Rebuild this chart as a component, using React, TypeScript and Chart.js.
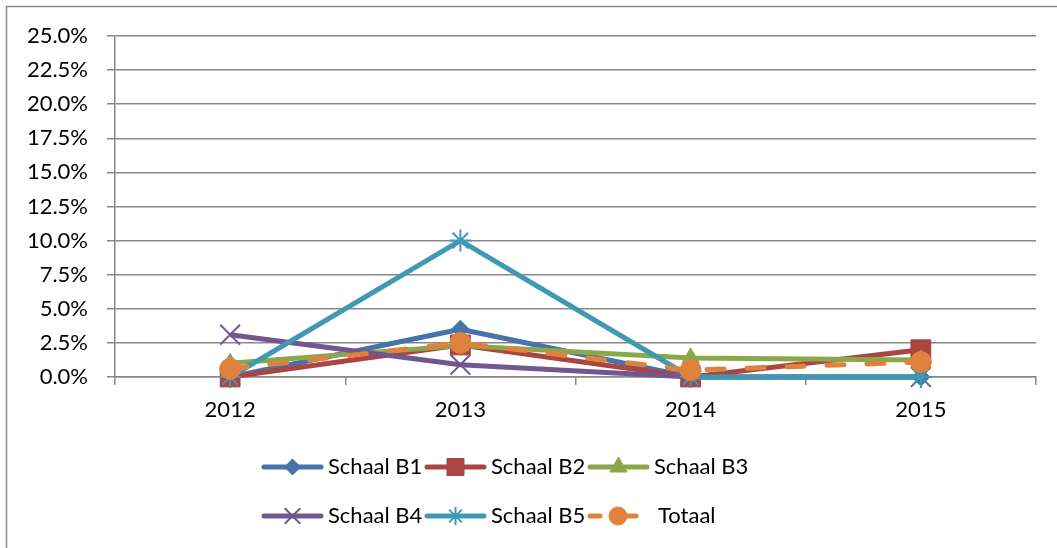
import React, { useEffect, useRef } from 'react';
import { Chart, registerables } from 'chart.js';
import { drawPoint } from 'chart.js/helpers';

Chart.register(...registerables);

const categories = ['2012', '2013', '2014', '2015'];
const schaalB1 = [0, 3.5, 0, 0];
const schaalB2 = [0, 2.35, 0, 2.0];
const schaalB3 = [1.0, 2.3, 1.4, 1.25];
const schaalB4 = [3.1, 0.9, 0, 0];
const schaalB5 = [0, 10.0, 0, 0];
const totaal = [0.6, 2.5, 0.5, 1.1];

const yMin = 0;
const yMax = 25;
const yStep = 2.5;

const FONT = 'Lato, "Open Sans", sans-serif';
const GRID = '#878787';

type Series = {
  label: string;
  data: number[];
  color: string;
  style: string;
  radius: number;
  legendRadius: number;
  pointBorder: number;
  dash?: number[];
};

const series: Series[] = [
  { label: 'Schaal B1', data: schaalB1, color: '#4573AA', style: 'rectRot', radius: 9, legendRadius: 8, pointBorder: 1 },
  { label: 'Schaal B2', data: schaalB2, color: '#AA4542', style: 'rect', radius: 14, legendRadius: 12, pointBorder: 1 },
  { label: 'Schaal B3', data: schaalB3, color: '#8AA84A', style: 'triangle', radius: 10, legendRadius: 10, pointBorder: 1 },
  { label: 'Schaal B4', data: schaalB4, color: '#71568F', style: 'crossRot', radius: 14, legendRadius: 11, pointBorder: 2 },
  { label: 'Schaal B5', data: schaalB5, color: '#4099B4', style: 'star', radius: 11, legendRadius: 9, pointBorder: 2 },
  { label: 'Totaal', data: totaal, color: '#E0823D', style: 'circle', radius: 10.5, legendRadius: 9, pointBorder: 1, dash: [17, 23] },
];

const borderPlugin = {
  id: 'outerBorder',
  beforeDraw(chart: any) {
    const ctx = chart.ctx;
    ctx.save();
    ctx.fillStyle = '#ffffff';
    ctx.fillRect(0, 0, chart.width, chart.height);
    ctx.strokeStyle = '#888888';
    ctx.lineWidth = 1.5;
    ctx.strokeRect(6.5, 6.5, chart.width + 20, chart.height + 20);
    ctx.restore();
  },
};

const legendPlugin = {
  id: 'gridLegend',
  afterDraw(chart: any) {
    const ctx = chart.ctx;
    const startX = 262;
    const colW = 163;
    const rowY = [467, 516];
    const lineLen = 61;
    ctx.save();
    series.forEach((s, i) => {
      const col = i % 3;
      const row = Math.floor(i / 3);
      const x0 = startX + col * colW;
      const y = rowY[row];
      ctx.save();
      ctx.strokeStyle = s.color;
      ctx.lineWidth = 5;
      ctx.lineCap = 'round';
      if (s.dash) {
        ctx.setLineDash([10, 26]);
        ctx.beginPath();
        ctx.moveTo(x0 + 2, y);
        ctx.lineTo(x0 + 52, y);
        ctx.stroke();
      } else {
        ctx.beginPath();
        ctx.moveTo(x0 + 2, y);
        ctx.lineTo(x0 + lineLen - 2, y);
        ctx.stroke();
      }
      ctx.restore();
      const cx = s.dash ? x0 + 30 : x0 + lineLen / 2;
      ctx.save();
      ctx.fillStyle = s.color;
      ctx.strokeStyle = s.color;
      ctx.lineWidth = s.pointBorder;
      drawPoint(ctx, { pointStyle: s.style as any, radius: s.legendRadius, rotation: 0, borderWidth: s.pointBorder } as any, cx, y);
      ctx.restore();
      ctx.fillStyle = '#000000';
      ctx.font = `22px ${FONT}`;
      ctx.textBaseline = 'middle';
      ctx.textAlign = 'left';
      ctx.fillText(s.label, x0 + 66 + (s.dash ? 4 : 0), y);
    });
    ctx.restore();
  },
};

export default function App() {
  const canvasRef = useRef<HTMLCanvasElement | null>(null);

  useEffect(() => {
    if (!canvasRef.current) return;
    const n = series.length;
    const chart = new Chart(canvasRef.current, {
      type: 'line',
      data: {
        labels: categories,
        datasets: series.map((s, i) => ({
          label: s.label,
          data: s.data,
          borderColor: s.color,
          backgroundColor: s.color,
          borderWidth: 5,
          borderDash: s.dash || [],
          borderCapStyle: s.dash ? 'round' : 'butt',
          borderJoinStyle: 'round',
          tension: 0,
          fill: false,
          pointStyle: s.style as any,
          pointRadius: s.radius,
          pointBorderWidth: s.pointBorder,
          pointBackgroundColor: s.color,
          pointBorderColor: s.color,
          order: n - i,
          clip: false as any,
        })),
      },
      options: {
        animation: false,
        responsive: false,
        maintainAspectRatio: false,
        devicePixelRatio: 1,
        layout: { padding: { left: 0, top: 36, right: 21, bottom: 0 } },
        plugins: {
          legend: { display: false },
          tooltip: { enabled: false },
        },
        scales: {
          x: {
            type: 'category',
            offset: true,
            grid: {
              offset: true,
              drawOnChartArea: false,
              drawTicks: true,
              tickLength: 8,
              color: GRID,
              lineWidth: 1.5,
            },
            border: { display: true, color: GRID, width: 1.5 },
            ticks: {
              color: '#000000',
              font: { family: FONT, size: 22 },
              padding: 12,
              maxRotation: 0,
            },
            afterFit: (scale: any) => {
              scale.height = 171;
            },
          },
          y: {
            min: yMin,
            max: yMax,
            grid: {
              drawTicks: true,
              tickLength: 8,
              color: GRID,
              lineWidth: 1.5,
            },
            border: { display: true, color: GRID, width: 1.5 },
            ticks: {
              stepSize: yStep,
              color: '#000000',
              font: { family: FONT, size: 22 },
              padding: 19,
              callback: (v: any) => Number(v).toFixed(1) + '%',
            },
            afterFit: (scale: any) => {
              scale.width = 115;
            },
          },
        },
      },
      plugins: [borderPlugin, legendPlugin],
    });
    return () => chart.destroy();
  }, []);

  return (
    <div style={{ position: 'absolute', left: 0, top: 0, width: 1057, height: 548, background: '#fff' }}>
      <canvas ref={canvasRef} width={1057} height={548} style={{ display: 'block', width: 1057, height: 548 }} />
    </div>
  );
}
